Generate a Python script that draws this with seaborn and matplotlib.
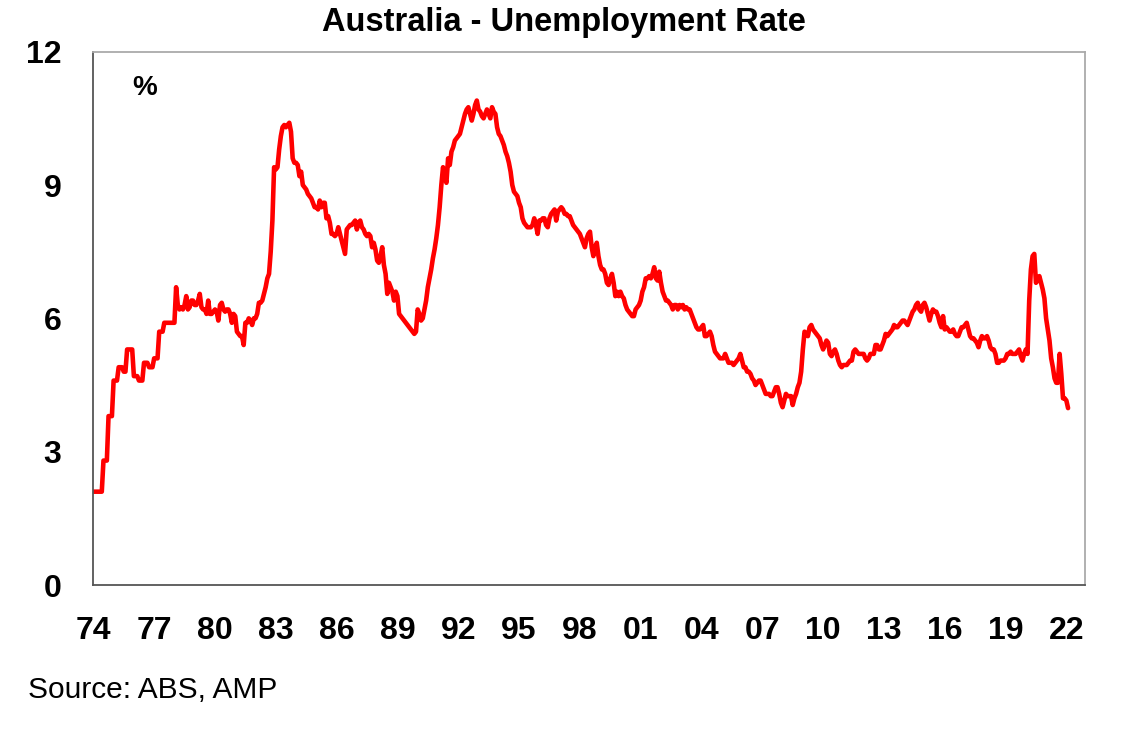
import matplotlib
matplotlib.use('Agg')
import matplotlib.pyplot as plt
import seaborn as sns
import numpy as np

# monthly unemployment rate (%), Jan 1974 - Feb 2022
rate_1970s = [
    2.1, 2.1, 2.1, 2.1, 2.1, 2.1, 2.8, 2.8, 2.8, 3.8, 3.8, 3.8,        # 1974
    4.6, 4.6, 4.6, 4.9, 4.9, 4.9, 4.8, 4.8, 5.3, 5.3, 5.3, 5.3,        # 1975
    4.7, 4.7, 4.7, 4.6, 4.6, 4.6, 5.0, 5.0, 5.0, 4.9, 4.9, 4.9,        # 1976
    5.1, 5.1, 5.1, 5.7, 5.7, 5.7, 5.9, 5.9, 5.9, 5.9, 5.9, 5.9,        # 1977
    5.9, 6.7, 6.3, 6.2, 6.25, 6.2, 6.3, 6.5, 6.2, 6.25, 6.4, 6.4,      # 1978
    6.3, 6.3, 6.4, 6.55, 6.25, 6.2, 6.2, 6.1, 6.4, 6.1, 6.1, 6.15,     # 1979
]
rate_1980s = [
    6.2, 6.15, 5.95, 6.3, 6.35, 6.2, 6.15, 6.2, 6.2, 6.1, 5.9, 6.1,    # 1980
    6.05, 5.7, 5.65, 5.6, 5.6, 5.4, 5.9, 5.9, 6.0, 5.95, 5.85, 6.0,    # 1981
    6.0, 6.1, 6.35, 6.35, 6.4, 6.55, 6.7, 6.9, 7.0, 7.5, 8.2, 9.4,     # 1982
    9.35, 9.4, 9.8, 10.1, 10.3, 10.35, 10.3, 10.35, 10.4, 10.2, 9.6, 9.5,  # 1983
    9.5, 9.45, 9.2, 9.3, 9.0, 8.95, 8.9, 8.8, 8.75, 8.7, 8.6, 8.5,     # 1984
    8.5, 8.45, 8.65, 8.5, 8.6, 8.6, 8.25, 8.3, 8.15, 7.9, 7.9, 7.85,   # 1985
    7.9, 8.05, 7.9, 7.75, 7.6, 7.45, 8.0, 8.05, 8.1, 8.1, 8.15, 8.2,   # 1986
    8.0, 8.15, 8.2, 8.05, 8.0, 7.9, 7.85, 7.9, 7.85, 7.6, 7.7, 7.55,   # 1987
    7.3, 7.25, 7.4, 7.6, 7.2, 7.0, 6.55, 6.8, 6.7, 6.6, 6.4, 6.6,      # 1988
    6.5, 6.1, 6.05, 6.0, 5.95, 5.9, 5.85, 5.8, 5.75, 5.7, 5.65, 5.7,   # 1989
]
rate_1990s = [
    6.2, 6.1, 5.95, 6.0, 6.2, 6.4, 6.7, 6.9, 7.1, 7.35, 7.55, 7.8,     # 1990
    8.1, 8.5, 9.0, 9.4, 9.2, 9.05, 9.6, 9.45, 9.75, 9.85, 10.0, 10.05, # 1991
    10.1, 10.15, 10.3, 10.45, 10.6, 10.7, 10.75, 10.6, 10.45, 10.6, 10.8, 10.9,  # 1992
    10.7, 10.65, 10.55, 10.5, 10.6, 10.7, 10.6, 10.5, 10.75, 10.65, 10.6, 10.3,  # 1993
    10.15, 10.1, 10.0, 9.9, 9.75, 9.65, 9.5, 9.3, 9.0, 8.85, 8.8, 8.75,  # 1994
    8.6, 8.5, 8.25, 8.15, 8.1, 8.05, 8.05, 8.05, 8.1, 8.25, 8.1, 7.9,  # 1995
    8.2, 8.2, 8.25, 8.25, 8.1, 8.05, 8.25, 8.35, 8.4, 8.45, 8.2, 8.4,  # 1996
    8.45, 8.5, 8.45, 8.35, 8.35, 8.3, 8.3, 8.2, 8.1, 8.05, 8.0, 7.95,  # 1997
    7.9, 7.8, 7.7, 7.6, 7.8, 7.9, 7.95, 7.6, 7.4, 7.6, 7.7, 7.4,       # 1998
    7.2, 7.1, 7.1, 7.0, 6.8, 6.75, 6.9, 7.0, 6.8, 6.5, 6.6, 6.5,       # 1999
]
rate_2000s = [
    6.6, 6.5, 6.45, 6.3, 6.2, 6.15, 6.1, 6.05, 6.05, 6.2, 6.25, 6.3,   # 2000
    6.4, 6.6, 6.7, 6.9, 6.9, 6.95, 6.9, 7.0, 7.15, 6.9, 6.85, 7.05,    # 2001
    6.8, 6.6, 6.5, 6.4, 6.4, 6.35, 6.3, 6.2, 6.3, 6.3, 6.2, 6.3,       # 2002
    6.25, 6.3, 6.2, 6.25, 6.2, 6.2, 6.1, 6.0, 5.9, 5.8, 5.75, 5.75,    # 2003
    5.8, 5.85, 5.6, 5.6, 5.65, 5.7, 5.6, 5.4, 5.25, 5.2, 5.15, 5.1,    # 2004
    5.1, 5.1, 5.2, 5.1, 5.0, 5.0, 5.0, 4.95, 5.0, 5.05, 5.1, 5.2,      # 2005
    5.05, 4.9, 4.9, 4.8, 4.8, 4.75, 4.65, 4.6, 4.5, 4.55, 4.6, 4.6,    # 2006
    4.5, 4.4, 4.3, 4.3, 4.3, 4.25, 4.25, 4.35, 4.45, 4.45, 4.3, 4.1,   # 2007
    4.0, 4.15, 4.3, 4.25, 4.25, 4.25, 4.05, 4.2, 4.3, 4.45, 4.55, 4.8, # 2008
    5.3, 5.7, 5.65, 5.6, 5.8, 5.85, 5.75, 5.7, 5.65, 5.6, 5.55, 5.4,   # 2009
]
rate_2010s = [
    5.3, 5.4, 5.5, 5.45, 5.2, 5.15, 5.25, 5.3, 5.2, 5.05, 4.95, 4.9,   # 2010
    4.95, 4.95, 4.95, 5.0, 5.05, 5.05, 5.25, 5.3, 5.25, 5.2, 5.2, 5.2, # 2011
    5.2, 5.1, 5.05, 5.1, 5.2, 5.2, 5.2, 5.4, 5.4, 5.3, 5.3, 5.4,       # 2012
    5.5, 5.65, 5.6, 5.65, 5.7, 5.75, 5.85, 5.8, 5.8, 5.85, 5.9, 5.95,  # 2013
    5.95, 5.9, 5.85, 5.95, 6.05, 6.15, 6.2, 6.3, 6.35, 6.2, 6.15, 6.3, # 2014
    6.35, 6.25, 6.1, 5.95, 6.1, 6.2, 6.15, 6.15, 6.05, 5.9, 5.8, 6.05, # 2015
    5.75, 5.8, 5.75, 5.7, 5.7, 5.75, 5.65, 5.6, 5.6, 5.7, 5.8, 5.8,    # 2016
    5.85, 5.9, 5.75, 5.6, 5.55, 5.55, 5.5, 5.45, 5.35, 5.5, 5.6, 5.55, # 2017
    5.55, 5.6, 5.5, 5.35, 5.3, 5.3, 5.2, 5.0, 5.0, 5.05, 5.05, 5.05,   # 2018
    5.1, 5.2, 5.2, 5.25, 5.2, 5.2, 5.2, 5.25, 5.3, 5.15, 5.05, 5.2,    # 2019
]
rate_2020s = [
    5.3, 5.2, 6.4, 7.1, 7.4, 7.45, 6.8, 6.85, 6.95, 6.8, 6.65, 6.45,   # 2020
    6.0, 5.75, 5.5, 5.1, 4.9, 4.65, 4.55, 4.55, 5.2, 4.75, 4.2, 4.2,   # 2021
    4.15, 3.98,                                                        # 2022
]

rate = np.array(rate_1970s + rate_1980s + rate_1990s + rate_2000s + rate_2010s + rate_2020s)
months = 1974 + np.arange(len(rate)) / 12

year_ticks = list(range(1974, 2023, 3))
year_labels = [f"{y % 100:02d}" for y in year_ticks]

sns.set_style('white')
plt.rcParams['font.family'] = ['Liberation Sans', 'DejaVu Sans']
plt.rcParams['text.color'] = 'black'
plt.rcParams['xtick.color'] = 'black'
plt.rcParams['ytick.color'] = 'black'

fig = plt.figure(figsize=(11.3, 7.33), dpi=100)
ax = fig.add_axes([0.0826, 0.2019, 0.8776, 0.7276])

sns.lineplot(x=months, y=rate, ax=ax, color='#ff0000', linewidth=3.3)

ax.set_xlim(1974, 2022.92)
ax.set_ylim(0, 12)
ax.set_yticks([0, 3, 6, 9, 12])
ax.set_xticks(year_ticks)
ax.set_xticklabels(year_labels)
ax.set_xlabel('')
ax.set_ylabel('')

for lab in ax.get_xticklabels() + ax.get_yticklabels():
    lab.set_fontsize(23)
    lab.set_fontweight('bold')
    lab.set_color('black')

ax.tick_params(axis='y', direction='out', length=9, width=1, color='#888888', pad=14)
ax.tick_params(axis='x', direction='in', length=9, width=1, color='#aaaaaa', pad=22)

ax.spines['left'].set_color('#555555')
ax.spines['bottom'].set_color('#555555')
ax.spines['top'].set_color('#aaaaaa')
ax.spines['right'].set_color('#aaaaaa')
for s in ax.spines.values():
    s.set_linewidth(1.3)
    s.set_visible(True)

fig.text(0.499, 1 - 22 / 733, 'Australia - Unemployment Rate', ha='center', va='center',
         fontsize=23.5, fontweight='bold', color='black')
fig.text(145 / 1130, 1 - 88 / 733, '%', ha='center', va='center', fontsize=20,
         fontweight='bold', color='black')
fig.text(28 / 1130, 1 - 690 / 733, 'Source: ABS, AMP', ha='left', va='center', fontsize=21.5,
         color='black')

fig.savefig('out.png', dpi=100)
